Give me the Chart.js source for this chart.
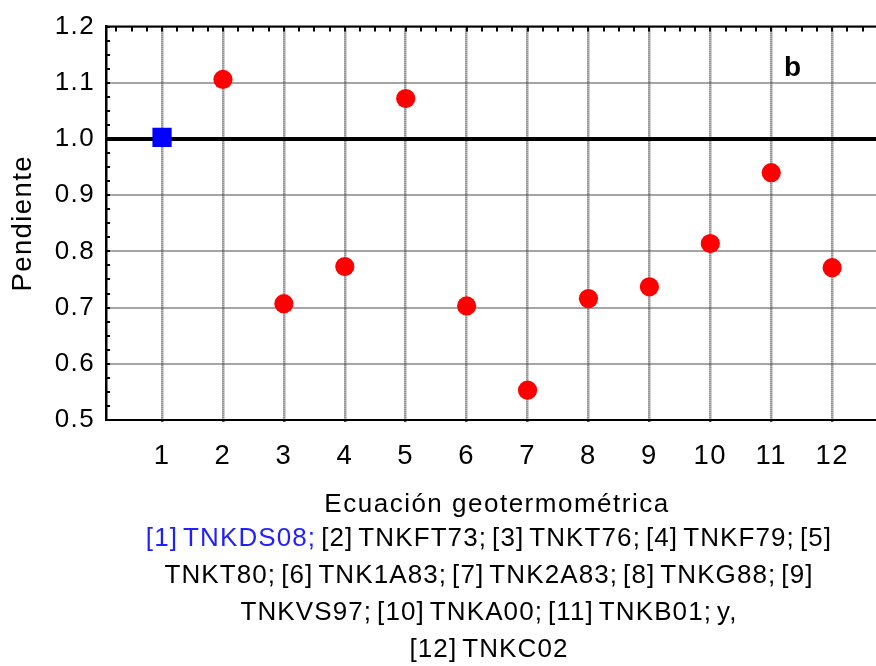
<!DOCTYPE html>
<html>
<head>
<meta charset="utf-8">
<script src="https://cdn.jsdelivr.net/npm/chart.js@4"></script>
<style>
  html, body { margin: 0; padding: 0; background: #ffffff; }
  #wrap { width: 876px; height: 666px; }
</style>
</head>
<body>
<div id="wrap"><canvas id="chart" width="876" height="666"></canvas></div>
<script>
// Equation numbers (x) and fitted slope per geothermometric equation (y)
const equationNumbers = [1, 2, 3, 4, 5, 6, 7, 8, 9, 10, 11, 12];
const slopes = [1.003, 1.106, 0.707, 0.773, 1.072, 0.703, 0.553, 0.716, 0.737, 0.814, 0.940, 0.771];
const equationNames = ['TNKDS08', 'TNKFT73', 'TNKT76', 'TNKF79', 'TNKT80', 'TNK1A83',
                       'TNK2A83', 'TNKG88', 'TNKVS97', 'TNKA00', 'TNKB01', 'TNKC02'];
const highlighted = 1;              // equation drawn with the blue square
const referenceSlope = 1.0;         // ideal slope line
const xTicks = equationNumbers;
const yTicks = [0.5, 0.6, 0.7, 0.8, 0.9, 1.0, 1.1, 1.2];
const xTitle = 'Ecuación geotermométrica';
const yTitle = 'Pendiente';
const panelLetter = 'b';
const captionBreaks = [9, 17, 23];  // word index where each caption line starts

const FONT = "'Liberation Sans', Arial, Helvetica, sans-serif";
const SPACING = '1.4px';

// Caption words: "[n] NAME;" ... "y," "[12] NAME"
const captionWords = [];
equationNames.forEach((name, i) => {
  const n = equationNumbers[i];
  if (i === equationNames.length - 1) {
    captionWords.push({ text: 'y,', eq: 0 });
    captionWords.push({ text: '[' + n + ']', eq: n });
    captionWords.push({ text: name, eq: n });
  } else {
    captionWords.push({ text: '[' + n + ']', eq: n });
    captionWords.push({ text: name + ';', eq: n });
  }
});
const captionLines = [];
[0, ...captionBreaks].forEach((start, k, arr) => {
  const end = k + 1 < arr.length ? arr[k + 1] : captionWords.length;
  captionLines.push(captionWords.slice(start, end));
});

const highlightPoints = equationNumbers
  .map((x, i) => ({ x, y: slopes[i] }))
  .filter(p => p.x === highlighted);
const otherPoints = equationNumbers
  .map((x, i) => ({ x, y: slopes[i] }))
  .filter(p => p.x !== highlighted);

const figureText = {
  id: 'figureText',
  beforeLayout(chart) { chart.ctx.letterSpacing = SPACING; },
  beforeDraw(chart) { chart.ctx.letterSpacing = SPACING; },
  beforeDatasetsDraw(chart) {
    const { ctx, chartArea: a, scales: { x, y } } = chart;
    ctx.save();
    ctx.setLineDash([]);
    ctx.strokeStyle = '#000000';
    // ideal slope line
    const yr = y.getPixelForValue(referenceSlope);
    ctx.lineWidth = 4;
    ctx.beginPath(); ctx.moveTo(a.left, yr); ctx.lineTo(a.right, yr); ctx.stroke();
    // top frame line
    ctx.lineWidth = 2;
    ctx.beginPath(); ctx.moveTo(a.left, a.top); ctx.lineTo(a.right, a.top); ctx.stroke();
    // inward minor ticks: top (every 0.25) and left (every 0.025)
    ctx.beginPath();
    for (let k = Math.ceil(x.min * 4); k <= Math.floor(x.max * 4); k++) {
      const px = Math.round(x.getPixelForValue(k / 4));
      ctx.moveTo(px, a.top); ctx.lineTo(px, a.top + 5);
    }
    for (let k = Math.ceil(y.min * 40); k <= Math.floor(y.max * 40); k++) {
      const py = Math.round(y.getPixelForValue(k / 40));
      ctx.moveTo(a.left, py); ctx.lineTo(a.left + 4, py);
    }
    ctx.stroke();
    ctx.restore();
  },
  afterDraw(chart) {
    const { ctx, chartArea: a } = chart;
    ctx.save();
    // panel letter
    ctx.letterSpacing = '0px';
    ctx.fillStyle = '#000000';
    ctx.font = 'bold 28px ' + FONT;
    ctx.textAlign = 'left';
    ctx.textBaseline = 'alphabetic';
    ctx.fillText(panelLetter, a.right - 92, a.top + 49);
    // x-axis title
    const cx = (a.left + a.right) / 2;
    ctx.letterSpacing = '1.5px';
    ctx.font = '26px ' + FONT;
    ctx.textAlign = 'center';
    ctx.fillText(xTitle, cx + 6, a.bottom + 92);
    // caption, one word at a time so the highlighted equation can be coloured
    ctx.letterSpacing = '1.1px';
    ctx.textAlign = 'left';
    const space = 5;
    captionLines.forEach((words, li) => {
      const widths = words.map(w => ctx.measureText(w.text).width);
      const total = widths.reduce((s, w) => s + w, 0) + space * (words.length - 1);
      let px = cx - 2 - total / 2;
      const py = a.bottom + 126 + li * 37;
      words.forEach((w, wi) => {
        ctx.fillStyle = w.eq === highlighted ? '#1f1fff' : '#000000';
        ctx.fillText(w.text, px, py);
        px += widths[wi] + space;
      });
    });
    ctx.restore();
  }
};

new Chart(document.getElementById('chart'), {
  type: 'scatter',
  data: {
    datasets: [
      {
        data: otherPoints,
        pointStyle: 'circle',
        pointRadius: 9.6,
        pointHoverRadius: 9.6,
        backgroundColor: '#ff0000',
        borderWidth: 0
      },
      {
        data: highlightPoints,
        pointStyle: 'rect',
        pointRadius: 13.6,
        pointHoverRadius: 13.6,
        backgroundColor: '#0000ff',
        borderWidth: 0
      }
    ]
  },
  options: {
    responsive: false,
    animation: false,
    events: [],
    layout: { autoPadding: false, padding: { top: 25, right: 0, bottom: 0, left: 0 } },
    plugins: { legend: { display: false }, tooltip: { enabled: false } },
    scales: {
      x: {
        type: 'linear',
        min: 0.08,
        max: 12.72,
        afterBuildTicks(scale) { scale.ticks = xTicks.map(v => ({ value: v })); },
        afterFit(scale) { scale.height = 246; },
        grid: {
          color: '#4c4c4c',
          lineWidth: 2.5,
          drawTicks: true,
          tickLength: 3,
          tickColor: '#4c4c4c',
          tickBorderDash: [1, 1]
        },
        border: { display: true, color: '#000000', width: 2, dash: [1, 1] },
        ticks: {
          color: '#000000',
          font: { family: FONT, size: 27.5 },
          padding: 17,
          maxRotation: 0,
          autoSkip: false,
          callback: v => String(v)
        }
      },
      y: {
        type: 'linear',
        min: 0.5,
        max: 1.2,
        afterBuildTicks(scale) { scale.ticks = yTicks.map(v => ({ value: v })); },
        afterFit(scale) { scale.width = 106; },
        grid: { color: '#4c4c4c', lineWidth: 2, drawTicks: false },
        border: { display: true, color: '#000000', width: 2.5, dash: [1, 1] },
        ticks: {
          color: '#000000',
          font: { family: FONT, size: 26 },
          padding: 11,
          callback: v => Number(v).toFixed(1)
        },
        title: {
          display: true,
          text: yTitle,
          color: '#000000',
          font: { family: FONT, size: 27.5 },
          padding: { top: 7, bottom: 0 }
        }
      }
    }
  },
  plugins: [figureText]
});
</script>
</body>
</html>
